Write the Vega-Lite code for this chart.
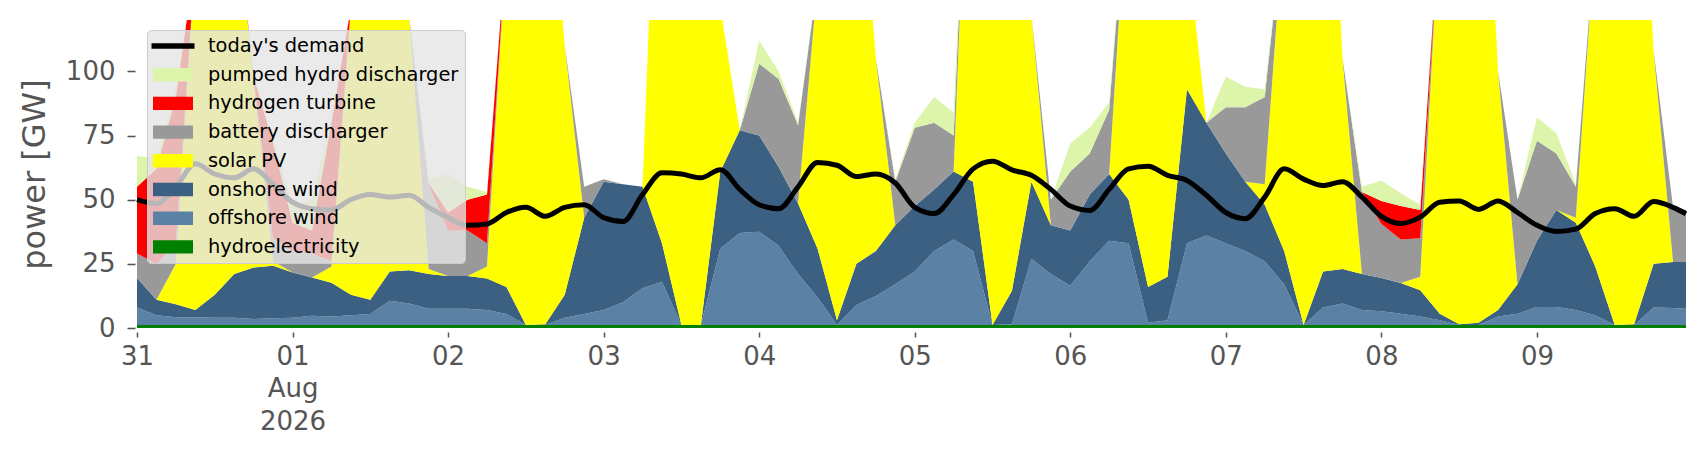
{
  "$schema": "https://vega.github.io/schema/vega-lite/v6.json",
  "description": "Power supply by source against today's demand, 31 Jul - 9 Aug 2026.",
  "width": 1549,
  "height": 308,
  "autosize": "none",
  "padding": {"left": 137, "top": 20, "right": 20, "bottom": 132},
  "background": "white",
  "config": {
    "font": "DejaVu Sans",
    "view": {"stroke": null}
  },
  "data": {
    "values": [
      {"date": "2026-07-31T00:00", "hydroelectricity": 1.2, "offshore wind": 6.8, "onshore wind": 11.5, "solar PV": 0, "battery discharger": 9.5, "hydrogen turbine": 26, "pumped hydro discharger": 12, "demand": 50},
      {"date": "2026-07-31T03:00", "hydroelectricity": 1.2, "offshore wind": 3.8, "onshore wind": 6, "solar PV": 0, "battery discharger": 14, "hydrogen turbine": 37, "pumped hydro discharger": 4, "demand": 48.5},
      {"date": "2026-07-31T06:00", "hydroelectricity": 1.2, "offshore wind": 3, "onshore wind": 5.1, "solar PV": 15.7, "battery discharger": 8, "hydrogen turbine": 57, "pumped hydro discharger": 3, "demand": 55},
      {"date": "2026-07-31T09:00", "hydroelectricity": 1.2, "offshore wind": 3, "onshore wind": 2.8, "solar PV": 137, "battery discharger": 0, "hydrogen turbine": 0, "pumped hydro discharger": 0, "demand": 64},
      {"date": "2026-07-31T12:00", "hydroelectricity": 1.2, "offshore wind": 2.8, "onshore wind": 9, "solar PV": 187, "battery discharger": 0, "hydrogen turbine": 0, "pumped hydro discharger": 0, "demand": 60},
      {"date": "2026-07-31T15:00", "hydroelectricity": 1.2, "offshore wind": 2.8, "onshore wind": 17, "solar PV": 149, "battery discharger": 0, "hydrogen turbine": 0, "pumped hydro discharger": 0, "demand": 58.5},
      {"date": "2026-07-31T18:00", "hydroelectricity": 1.2, "offshore wind": 2.3, "onshore wind": 20.1, "solar PV": 72.4, "battery discharger": 1, "hydrogen turbine": 1, "pumped hydro discharger": 1, "demand": 62},
      {"date": "2026-07-31T21:00", "hydroelectricity": 1.2, "offshore wind": 2.6, "onshore wind": 20.5, "solar PV": 1.7, "battery discharger": 9, "hydrogen turbine": 37, "pumped hydro discharger": 2, "demand": 56},
      {"date": "2026-08-01T00:00", "hydroelectricity": 1.2, "offshore wind": 2.8, "onshore wind": 17.6, "solar PV": 0, "battery discharger": 8.4, "hydrogen turbine": 11, "pumped hydro discharger": 7, "demand": 49},
      {"date": "2026-08-01T03:00", "hydroelectricity": 1.2, "offshore wind": 3.6, "onshore wind": 14.9, "solar PV": 0, "battery discharger": 9.3, "hydrogen turbine": 9, "pumped hydro discharger": 12, "demand": 46.5},
      {"date": "2026-08-01T06:00", "hydroelectricity": 1.2, "offshore wind": 3.3, "onshore wind": 13.1, "solar PV": 6.4, "battery discharger": 2, "hydrogen turbine": 54, "pumped hydro discharger": 2, "demand": 46},
      {"date": "2026-08-01T09:00", "hydroelectricity": 1.2, "offshore wind": 3.8, "onshore wind": 8, "solar PV": 112, "battery discharger": 0, "hydrogen turbine": 0, "pumped hydro discharger": 0, "demand": 50},
      {"date": "2026-08-01T12:00", "hydroelectricity": 1.2, "offshore wind": 4.3, "onshore wind": 5.5, "solar PV": 239, "battery discharger": 0, "hydrogen turbine": 0, "pumped hydro discharger": 0, "demand": 52},
      {"date": "2026-08-01T15:00", "hydroelectricity": 1.2, "offshore wind": 9.4, "onshore wind": 11.4, "solar PV": 228, "battery discharger": 0, "hydrogen turbine": 0, "pumped hydro discharger": 0, "demand": 51},
      {"date": "2026-08-01T18:00", "hydroelectricity": 1.2, "offshore wind": 8.3, "onshore wind": 13, "solar PV": 98.5, "battery discharger": 0, "hydrogen turbine": 0, "pumped hydro discharger": 0, "demand": 51.7},
      {"date": "2026-08-01T21:00", "hydroelectricity": 1.2, "offshore wind": 6.3, "onshore wind": 13.5, "solar PV": 2, "battery discharger": 33, "hydrogen turbine": 0.5, "pumped hydro discharger": 1.5, "demand": 47},
      {"date": "2026-08-02T00:00", "hydroelectricity": 1.2, "offshore wind": 6.3, "onshore wind": 12.8, "solar PV": 0, "battery discharger": 17.7, "hydrogen turbine": 7, "pumped hydro discharger": 15, "demand": 43},
      {"date": "2026-08-02T03:00", "hydroelectricity": 1.2, "offshore wind": 6.3, "onshore wind": 12.8, "solar PV": 0, "battery discharger": 17.7, "hydrogen turbine": 12, "pumped hydro discharger": 5, "demand": 40},
      {"date": "2026-08-02T06:00", "hydroelectricity": 1.2, "offshore wind": 5.8, "onshore wind": 12.3, "solar PV": 4.7, "battery discharger": 9, "hydrogen turbine": 19, "pumped hydro discharger": 1, "demand": 40.5},
      {"date": "2026-08-02T09:00", "hydroelectricity": 1.2, "offshore wind": 4.3, "onshore wind": 10.5, "solar PV": 134, "battery discharger": 0, "hydrogen turbine": 0, "pumped hydro discharger": 0, "demand": 45},
      {"date": "2026-08-02T12:00", "hydroelectricity": 1.2, "offshore wind": 0, "onshore wind": 0, "solar PV": 249, "battery discharger": 0, "hydrogen turbine": 0, "pumped hydro discharger": 0, "demand": 47},
      {"date": "2026-08-02T15:00", "hydroelectricity": 1.2, "offshore wind": 0, "onshore wind": 0.3, "solar PV": 198.5, "battery discharger": 0, "hydrogen turbine": 0, "pumped hydro discharger": 0, "demand": 43.5},
      {"date": "2026-08-02T18:00", "hydroelectricity": 1.2, "offshore wind": 2.8, "onshore wind": 9, "solar PV": 97, "battery discharger": 0, "hydrogen turbine": 0, "pumped hydro discharger": 0, "demand": 47},
      {"date": "2026-08-02T21:00", "hydroelectricity": 1.2, "offshore wind": 4.3, "onshore wind": 37.5, "solar PV": 0, "battery discharger": 12, "hydrogen turbine": 0, "pumped hydro discharger": 0, "demand": 48},
      {"date": "2026-08-03T00:00", "hydroelectricity": 1.2, "offshore wind": 5.8, "onshore wind": 50, "solar PV": 0, "battery discharger": 1, "hydrogen turbine": 0, "pumped hydro discharger": 0, "demand": 43},
      {"date": "2026-08-03T03:00", "hydroelectricity": 1.2, "offshore wind": 8.8, "onshore wind": 46, "solar PV": 0, "battery discharger": 0, "hydrogen turbine": 0, "pumped hydro discharger": 0, "demand": 41.5},
      {"date": "2026-08-03T06:00", "hydroelectricity": 1.2, "offshore wind": 14.3, "onshore wind": 39.5, "solar PV": 0, "battery discharger": 0, "hydrogen turbine": 0, "pumped hydro discharger": 0, "demand": 52},
      {"date": "2026-08-03T09:00", "hydroelectricity": 1.2, "offshore wind": 16.8, "onshore wind": 15, "solar PV": 217, "battery discharger": 0, "hydrogen turbine": 0, "pumped hydro discharger": 0, "demand": 60.5},
      {"date": "2026-08-03T12:00", "hydroelectricity": 1.2, "offshore wind": 0, "onshore wind": 0, "solar PV": 299, "battery discharger": 0, "hydrogen turbine": 0, "pumped hydro discharger": 0, "demand": 60},
      {"date": "2026-08-03T15:00", "hydroelectricity": 1.2, "offshore wind": 0, "onshore wind": 0, "solar PV": 299, "battery discharger": 0, "hydrogen turbine": 0, "pumped hydro discharger": 0, "demand": 58.5},
      {"date": "2026-08-03T18:00", "hydroelectricity": 1.2, "offshore wind": 29.8, "onshore wind": 30, "solar PV": 64, "battery discharger": 0, "hydrogen turbine": 0, "pumped hydro discharger": 0, "demand": 61.7},
      {"date": "2026-08-03T21:00", "hydroelectricity": 1.2, "offshore wind": 35.8, "onshore wind": 40, "solar PV": 0, "battery discharger": 0, "hydrogen turbine": 0, "pumped hydro discharger": 0, "demand": 54},
      {"date": "2026-08-04T00:00", "hydroelectricity": 1.2, "offshore wind": 36.3, "onshore wind": 37.5, "solar PV": 0, "battery discharger": 28, "hydrogen turbine": 0, "pumped hydro discharger": 9, "demand": 48},
      {"date": "2026-08-04T03:00", "hydroelectricity": 1.2, "offshore wind": 30.8, "onshore wind": 30.7, "solar PV": 0, "battery discharger": 34.3, "hydrogen turbine": 0, "pumped hydro discharger": 3, "demand": 46.5},
      {"date": "2026-08-04T06:00", "hydroelectricity": 1.2, "offshore wind": 19.8, "onshore wind": 27.5, "solar PV": 0, "battery discharger": 30.5, "hydrogen turbine": 0, "pumped hydro discharger": 1, "demand": 55},
      {"date": "2026-08-04T09:00", "hydroelectricity": 1.2, "offshore wind": 10.8, "onshore wind": 19, "solar PV": 104, "battery discharger": 0, "hydrogen turbine": 0, "pumped hydro discharger": 0, "demand": 64.5},
      {"date": "2026-08-04T12:00", "hydroelectricity": 1.2, "offshore wind": 0, "onshore wind": 1.8, "solar PV": 247, "battery discharger": 0, "hydrogen turbine": 0, "pumped hydro discharger": 0, "demand": 63.4},
      {"date": "2026-08-04T15:00", "hydroelectricity": 1.2, "offshore wind": 7.8, "onshore wind": 16, "solar PV": 175, "battery discharger": 0, "hydrogen turbine": 0, "pumped hydro discharger": 0, "demand": 59},
      {"date": "2026-08-04T18:00", "hydroelectricity": 1.2, "offshore wind": 11.3, "onshore wind": 17.5, "solar PV": 75, "battery discharger": 0, "hydrogen turbine": 0, "pumped hydro discharger": 0, "demand": 60},
      {"date": "2026-08-04T21:00", "hydroelectricity": 1.2, "offshore wind": 15.8, "onshore wind": 23, "solar PV": 0, "battery discharger": 17, "hydrogen turbine": 0, "pumped hydro discharger": 1, "demand": 56.5},
      {"date": "2026-08-05T00:00", "hydroelectricity": 1.2, "offshore wind": 20.8, "onshore wind": 25.5, "solar PV": 0, "battery discharger": 30.5, "hydrogen turbine": 0, "pumped hydro discharger": 2, "demand": 47},
      {"date": "2026-08-05T03:00", "hydroelectricity": 1.2, "offshore wind": 28.8, "onshore wind": 24, "solar PV": 0, "battery discharger": 26, "hydrogen turbine": 0, "pumped hydro discharger": 10, "demand": 44.6},
      {"date": "2026-08-05T06:00", "hydroelectricity": 1.2, "offshore wind": 33.3, "onshore wind": 26.5, "solar PV": 0, "battery discharger": 14, "hydrogen turbine": 0, "pumped hydro discharger": 9, "demand": 52},
      {"date": "2026-08-05T09:00", "hydroelectricity": 1.2, "offshore wind": 28.8, "onshore wind": 27, "solar PV": 193, "battery discharger": 0, "hydrogen turbine": 0, "pumped hydro discharger": 0, "demand": 62},
      {"date": "2026-08-05T12:00", "hydroelectricity": 1.2, "offshore wind": 0, "onshore wind": 0, "solar PV": 299, "battery discharger": 0, "hydrogen turbine": 0, "pumped hydro discharger": 0, "demand": 65},
      {"date": "2026-08-05T15:00", "hydroelectricity": 1.2, "offshore wind": 0.3, "onshore wind": 13, "solar PV": 285, "battery discharger": 0, "hydrogen turbine": 0, "pumped hydro discharger": 0, "demand": 61.6},
      {"date": "2026-08-05T18:00", "hydroelectricity": 1.2, "offshore wind": 25.8, "onshore wind": 30, "solar PV": 65, "battery discharger": 0, "hydrogen turbine": 0, "pumped hydro discharger": 0, "demand": 59.5},
      {"date": "2026-08-05T21:00", "hydroelectricity": 1.2, "offshore wind": 19.8, "onshore wind": 19, "solar PV": 0, "battery discharger": 10, "hydrogen turbine": 0, "pumped hydro discharger": 0, "demand": 54},
      {"date": "2026-08-06T00:00", "hydroelectricity": 1.2, "offshore wind": 15.3, "onshore wind": 21.5, "solar PV": 0, "battery discharger": 23, "hydrogen turbine": 0, "pumped hydro discharger": 11, "demand": 47.5},
      {"date": "2026-08-06T03:00", "hydroelectricity": 1.2, "offshore wind": 24.8, "onshore wind": 26, "solar PV": 0, "battery discharger": 16, "hydrogen turbine": 0, "pumped hydro discharger": 10, "demand": 45.8},
      {"date": "2026-08-06T06:00", "hydroelectricity": 1.2, "offshore wind": 32.8, "onshore wind": 26, "solar PV": 0, "battery discharger": 25, "hydrogen turbine": 0, "pumped hydro discharger": 3, "demand": 54},
      {"date": "2026-08-06T09:00", "hydroelectricity": 1.2, "offshore wind": 31.8, "onshore wind": 17, "solar PV": 130, "battery discharger": 0, "hydrogen turbine": 0, "pumped hydro discharger": 0, "demand": 62},
      {"date": "2026-08-06T12:00", "hydroelectricity": 1.2, "offshore wind": 0.8, "onshore wind": 14, "solar PV": 234, "battery discharger": 0, "hydrogen turbine": 0, "pumped hydro discharger": 0, "demand": 63},
      {"date": "2026-08-06T15:00", "hydroelectricity": 1.2, "offshore wind": 1.8, "onshore wind": 17, "solar PV": 230, "battery discharger": 0, "hydrogen turbine": 0, "pumped hydro discharger": 0, "demand": 59.5},
      {"date": "2026-08-06T18:00", "hydroelectricity": 1.2, "offshore wind": 31.8, "onshore wind": 60, "solar PV": 57, "battery discharger": 0, "hydrogen turbine": 0, "pumped hydro discharger": 0, "demand": 57.5},
      {"date": "2026-08-06T21:00", "hydroelectricity": 1.2, "offshore wind": 34.8, "onshore wind": 44, "solar PV": 0, "battery discharger": 0, "hydrogen turbine": 0, "pumped hydro discharger": 0, "demand": 51.7},
      {"date": "2026-08-07T00:00", "hydroelectricity": 1.2, "offshore wind": 31.8, "onshore wind": 35, "solar PV": 0, "battery discharger": 18, "hydrogen turbine": 0, "pumped hydro discharger": 12, "demand": 45},
      {"date": "2026-08-07T03:00", "hydroelectricity": 1.2, "offshore wind": 28.8, "onshore wind": 27, "solar PV": 0, "battery discharger": 29, "hydrogen turbine": 0, "pumped hydro discharger": 8, "demand": 42.6},
      {"date": "2026-08-07T06:00", "hydroelectricity": 1.2, "offshore wind": 24.8, "onshore wind": 22, "solar PV": 8, "battery discharger": 34, "hydrogen turbine": 0, "pumped hydro discharger": 3, "demand": 51},
      {"date": "2026-08-07T09:00", "hydroelectricity": 1.2, "offshore wind": 15.8, "onshore wind": 13, "solar PV": 130, "battery discharger": 0, "hydrogen turbine": 0, "pumped hydro discharger": 0, "demand": 62},
      {"date": "2026-08-07T12:00", "hydroelectricity": 1.2, "offshore wind": 0, "onshore wind": 0, "solar PV": 249, "battery discharger": 0, "hydrogen turbine": 0, "pumped hydro discharger": 0, "demand": 58},
      {"date": "2026-08-07T15:00", "hydroelectricity": 1.2, "offshore wind": 6.8, "onshore wind": 14, "solar PV": 228, "battery discharger": 0, "hydrogen turbine": 0, "pumped hydro discharger": 0, "demand": 55.5},
      {"date": "2026-08-07T18:00", "hydroelectricity": 1.2, "offshore wind": 8.3, "onshore wind": 13.5, "solar PV": 82, "battery discharger": 0, "hydrogen turbine": 0, "pumped hydro discharger": 0, "demand": 57},
      {"date": "2026-08-07T21:00", "hydroelectricity": 1.2, "offshore wind": 5.8, "onshore wind": 14, "solar PV": 0, "battery discharger": 32, "hydrogen turbine": 0, "pumped hydro discharger": 2, "demand": 51},
      {"date": "2026-08-08T00:00", "hydroelectricity": 1.2, "offshore wind": 5.3, "onshore wind": 13, "solar PV": 0, "battery discharger": 21, "hydrogen turbine": 9, "pumped hydro discharger": 8, "demand": 43.5},
      {"date": "2026-08-08T03:00", "hydroelectricity": 1.2, "offshore wind": 4.4, "onshore wind": 11.9, "solar PV": 0, "battery discharger": 17, "hydrogen turbine": 13, "pumped hydro discharger": 5, "demand": 40.7},
      {"date": "2026-08-08T06:00", "hydroelectricity": 1.2, "offshore wind": 3.3, "onshore wind": 10.2, "solar PV": 5.3, "battery discharger": 15, "hydrogen turbine": 11, "pumped hydro discharger": 2, "demand": 43.2},
      {"date": "2026-08-08T09:00", "hydroelectricity": 1.2, "offshore wind": 1.8, "onshore wind": 2.6, "solar PV": 154.4, "battery discharger": 0, "hydrogen turbine": 0, "pumped hydro discharger": 0, "demand": 49},
      {"date": "2026-08-08T12:00", "hydroelectricity": 1.2, "offshore wind": 0, "onshore wind": 0.3, "solar PV": 248.5, "battery discharger": 0, "hydrogen turbine": 0, "pumped hydro discharger": 0, "demand": 49.5},
      {"date": "2026-08-08T15:00", "hydroelectricity": 1.2, "offshore wind": 0, "onshore wind": 0.8, "solar PV": 248, "battery discharger": 0, "hydrogen turbine": 0, "pumped hydro discharger": 0, "demand": 46.2},
      {"date": "2026-08-08T18:00", "hydroelectricity": 1.2, "offshore wind": 3.3, "onshore wind": 2.5, "solar PV": 93, "battery discharger": 0, "hydrogen turbine": 0, "pumped hydro discharger": 0, "demand": 49.5},
      {"date": "2026-08-08T21:00", "hydroelectricity": 1.2, "offshore wind": 4.4, "onshore wind": 11.4, "solar PV": 0, "battery discharger": 33, "hydrogen turbine": 0, "pumped hydro discharger": 0, "demand": 45},
      {"date": "2026-08-09T00:00", "hydroelectricity": 1.2, "offshore wind": 7, "onshore wind": 25.8, "solar PV": 0, "battery discharger": 39, "hydrogen turbine": 0, "pumped hydro discharger": 9, "demand": 40},
      {"date": "2026-08-09T03:00", "hydroelectricity": 1.2, "offshore wind": 7, "onshore wind": 37.8, "solar PV": 0, "battery discharger": 22, "hydrogen turbine": 0, "pumped hydro discharger": 8, "demand": 37.6},
      {"date": "2026-08-09T06:00", "hydroelectricity": 1.2, "offshore wind": 5.8, "onshore wind": 34, "solar PV": 2, "battery discharger": 12, "hydrogen turbine": 0, "pumped hydro discharger": 1, "demand": 38.5},
      {"date": "2026-08-09T09:00", "hydroelectricity": 1.2, "offshore wind": 3.8, "onshore wind": 19, "solar PV": 128, "battery discharger": 0, "hydrogen turbine": 0, "pumped hydro discharger": 0, "demand": 44.6},
      {"date": "2026-08-09T12:00", "hydroelectricity": 1.2, "offshore wind": 0, "onshore wind": 0, "solar PV": 249, "battery discharger": 0, "hydrogen turbine": 0, "pumped hydro discharger": 0, "demand": 46.5},
      {"date": "2026-08-09T15:00", "hydroelectricity": 1.2, "offshore wind": 0, "onshore wind": 0.3, "solar PV": 248.5, "battery discharger": 0, "hydrogen turbine": 0, "pumped hydro discharger": 0, "demand": 43.5},
      {"date": "2026-08-09T18:00", "hydroelectricity": 1.2, "offshore wind": 6.8, "onshore wind": 17, "solar PV": 83, "battery discharger": 0, "hydrogen turbine": 0, "pumped hydro discharger": 0, "demand": 49.3},
      {"date": "2026-08-09T21:00", "hydroelectricity": 1.2, "offshore wind": 6.6, "onshore wind": 17.9, "solar PV": 0, "battery discharger": 21.3, "hydrogen turbine": 0, "pumped hydro discharger": 0, "demand": 47},
      {"date": "2026-08-09T23:00", "hydroelectricity": 1.2, "offshore wind": 6.3, "onshore wind": 18.2, "solar PV": 0, "battery discharger": 20.3, "hydrogen turbine": 0, "pumped hydro discharger": 0, "demand": 44.5}
    ]
  },
  "layer": [
    {
      "transform": [
        {"fold": ["hydroelectricity", "offshore wind", "onshore wind", "solar PV", "battery discharger", "hydrogen turbine", "pumped hydro discharger"], "as": ["source", "power"]},
        {"window": [{"op": "row_number", "as": "stack_rank"}], "groupby": ["date"]}
      ],
      "mark": {"type": "area", "clip": true},
      "encoding": {
        "x": {
          "field": "date", "type": "temporal",
          "scale": {"nice": false},
          "axis": {
            "title": null, "grid": false, "domain": false,
            "tickCount": {"interval": "day", "step": 1},
            "labelExpr": "date(datum.value) == 1 ? ['01', 'Aug', '2026'] : timeFormat(datum.value, '%d')",
            "labelFontSize": 26, "labelColor": "#555555", "labelLineHeight": 32.5,
            "labelFlush": false, "labelOverlap": false, "labelPadding": 6,
            "tickColor": "#555555", "tickSize": 5, "tickWidth": 1.5, "offset": 4
          }
        },
        "y": {
          "field": "power", "type": "quantitative", "stack": "zero",
          "scale": {"domain": [0, 120], "nice": false},
          "axis": {
            "title": "power [GW]", "titleFontSize": 32, "titleFontWeight": "normal", "titleColor": "#555555", "titlePadding": 14,
            "values": [0, 25, 50, 75, 100], "grid": false, "domain": false,
            "labelFontSize": 26, "labelColor": "#555555", "labelPadding": 12,
            "tickColor": "#555555", "tickSize": 8, "tickWidth": 1.6, "offset": 2
          }
        },
        "color": {
          "field": "source", "type": "nominal",
          "scale": {
            "domain": ["today's demand", "pumped hydro discharger", "hydrogen turbine", "battery discharger", "solar PV", "onshore wind", "offshore wind", "hydroelectricity"],
            "range": ["#000000", "#dcf5aa", "#ff0000", "#999999", "#ffff00", "#3b6082", "#5b82a5", "#008000"]
          },
          "legend": {
            "title": null, "orient": "top-left", "offset": 10, "zindex": 1,
            "padding": 6, "rowPadding": 8.7, "symbolSize": 400, "symbolStrokeWidth": 0,
            "labelFontSize": 19.4, "labelColor": "#000000", "labelOffset": 35, "labelLimit": 400,
            "fillColor": "rgba(229,229,229,0.8)", "strokeColor": "#cccccc", "cornerRadius": 4,
            "encode": {
              "symbols": {
                "update": {
                  "shape": {"signal": "datum.index === 0 ? 'M-1.15,-0.28H3.15V0.28H-1.15Z' : 'M-1,-0.67H3V0.67H-1Z'"},
                  "fill": {"scale": "color", "field": "value"},
                  "stroke": {"value": "transparent"},
                  "strokeWidth": {"value": 0},
                  "opacity": {"value": 1}
                }
              }
            }
          }
        },
        "order": {"field": "stack_rank", "type": "quantitative"}
      }
    },
    {
      "mark": {"type": "line", "strokeWidth": 5, "interpolate": "monotone"},
      "encoding": {
        "x": {"field": "date", "type": "temporal", "axis": {"title": null}},
        "y": {"field": "demand", "type": "quantitative", "axis": {"title": "power [GW]"}},
        "color": {
          "datum": "today's demand", "type": "nominal",
          "scale": {
            "domain": ["today's demand", "pumped hydro discharger", "hydrogen turbine", "battery discharger", "solar PV", "onshore wind", "offshore wind", "hydroelectricity"],
            "range": ["#000000", "#dcf5aa", "#ff0000", "#999999", "#ffff00", "#3b6082", "#5b82a5", "#008000"]
          }
        }
      }
    }
  ]
}
